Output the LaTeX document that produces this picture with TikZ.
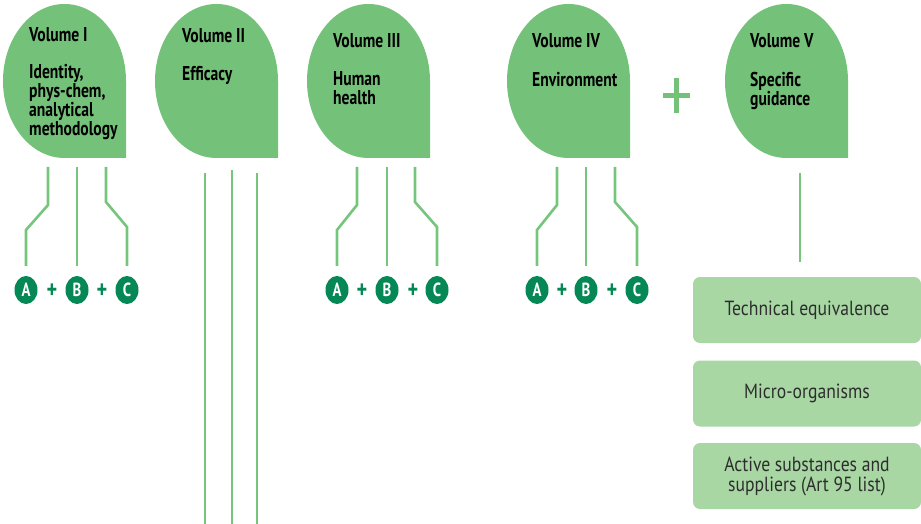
\documentclass[tikz,border=0pt]{standalone}
\usepackage{fontspec}
\setmainfont{PT Sans}
\newfontfamily\condb[FakeStretch=0.78]{PT Sans Bold}
\newfontfamily\condr[FakeStretch=0.86]{PT Sans}
\usetikzlibrary{shapes.geometric}
\definecolor{dropgreen}{RGB}{116,193,122}
\definecolor{boxgreen}{RGB}{168,215,164}
\definecolor{dkgreen}{RGB}{6,136,86}
\definecolor{linegreen}{RGB}{118,197,124}
\definecolor{boxtext}{RGB}{45,45,45}
\newcommand\voldrop[1]{%
  \fill[dropgreen] (#1+123,158) -- (#1+123,81)
    .. controls (#1+123,38.5) and (#1+95.5,4) .. (#1+61.5,4)
    .. controls (#1+27.5,4) and (#1,38.5) .. (#1,81)
    .. controls (#1,123.5) and (#1+27.5,158) .. (#1+61.5,158) -- cycle;}
\begin{document}
\begin{tikzpicture}[x=1pt,y=-1pt,
  conn/.style={draw=linegreen,line width=2.6pt},
  title/.style={anchor=base west,inner sep=0pt,font=\condb\fontsize{20}{17}\selectfont},
  body/.style={anchor=north west,inner sep=0pt,align=left,font=\condb\fontsize{20}{18}\selectfont},
  abc/.style={ellipse,fill=dkgreen,text=white,inner sep=0pt,minimum width=23pt,minimum height=28pt,font=\condb\fontsize{19}{19}\selectfont},
  plussign/.style={inner sep=0pt,text=dkgreen,font=\condb\fontsize{26}{26}\selectfont},
  guide/.style={fill=boxgreen,rounded corners=7pt,minimum width=228pt,minimum height=66pt,inner sep=0pt,align=center,text=boxtext,font=\condr\fontsize{20.5}{20}\selectfont}]
\useasboundingbox (0,0) rectangle (921,524);
% drops
\voldrop{3}
\voldrop{155}
\voldrop{307}
\voldrop{507}
\voldrop{725}
% titles
\node[title] (t1) at (29,42) {Volume I};
\node[body] (b1) at (29,64) {Identity,\\phys-chem,\\analytical\\methodology};
\node[title] (t2) at (182,43) {Volume II};
\node[body] (b2) at (182,66) {Efficacy};
\node[title] (t3) at (333,48) {Volume III};
\node[body,font=\condb\fontsize{20}{19}\selectfont] (b3) at (333,71) {Human\\health};
\node[title] (t4) at (532,48) {Volume IV};
\node[body] (b4) at (532,72) {Environment};
\node[title] (t5) at (750,48) {Volume V};
\node[body] (b5) at (750,72) {Specific\\guidance};
% big plus
\fill[dropgreen] (662.5,93.5) rectangle (689.5,98.5);
\fill[dropgreen] (673.5,78) rectangle (678.5,113);
% circles group I
\node[abc] (A1) at (26,290) {A};
\node[plussign] (p1a) at (52,291) {+};
\node[abc] (B1) at (77,290) {B};
\node[plussign] (p1b) at (102,291) {+};
\node[abc] (C1) at (127,290) {C};
% group III
\node[abc] (A3) at (337,290) {A};
\node[plussign] (p3a) at (362,291) {+};
\node[abc] (B3) at (387,290) {B};
\node[plussign] (p3b) at (413,291) {+};
\node[abc] (C3) at (437,290) {C};
% group IV
\node[abc] (A4) at (537,290) {A};
\node[plussign] (p4a) at (562,291) {+};
\node[abc] (B4) at (586,290) {B};
\node[plussign] (p4b) at (612,291) {+};
\node[abc] (C4) at (637,290) {C};
% connectors group I
\draw[conn,shorten >=10pt] (48,167) -- (48,205) -- (26,230) -- (A1.north);
\draw[conn,shorten >=10pt] (77,167) -- (B1.north);
\draw[conn,shorten >=10pt] (106,167) -- (106,202) -- (127,227) -- (C1.north);
% group III
\draw[conn,shorten >=10pt] (357,167) -- (357,205) -- (337,230) -- (A3.north);
\draw[conn,shorten >=10pt] (387,167) -- (B3.north);
\draw[conn,shorten >=10pt] (415,167) -- (415,202) -- (437,227) -- (C3.north);
% group IV
\draw[conn,shorten >=10pt] (557,167) -- (557,205) -- (537,230) -- (A4.north);
\draw[conn,shorten >=10pt] (586,167) -- (B4.north);
\draw[conn,shorten >=10pt] (615,167) -- (615,202) -- (637,227) -- (C4.north);
% volume II lines
\coordinate (e1) at (205,524);
\coordinate (e2) at (232,524);
\coordinate (e3) at (257,524);
\draw[conn] (205,173) -- (e1);
\draw[conn] (232,170) -- (e2);
\draw[conn] (257,173) -- (e3);
% guidance boxes
\node[guide] (g1) at (807,310) {Technical equivalence};
\node[guide] (g2) at (807,393.5) {Micro-organisms};
\node[guide] (g3) at (807,476) {Active substances and\\suppliers (Art 95 list)};
\draw[conn,shorten >=15pt] (800,173) -- (g1.north -| 800,0);
\end{tikzpicture}
\end{document}
